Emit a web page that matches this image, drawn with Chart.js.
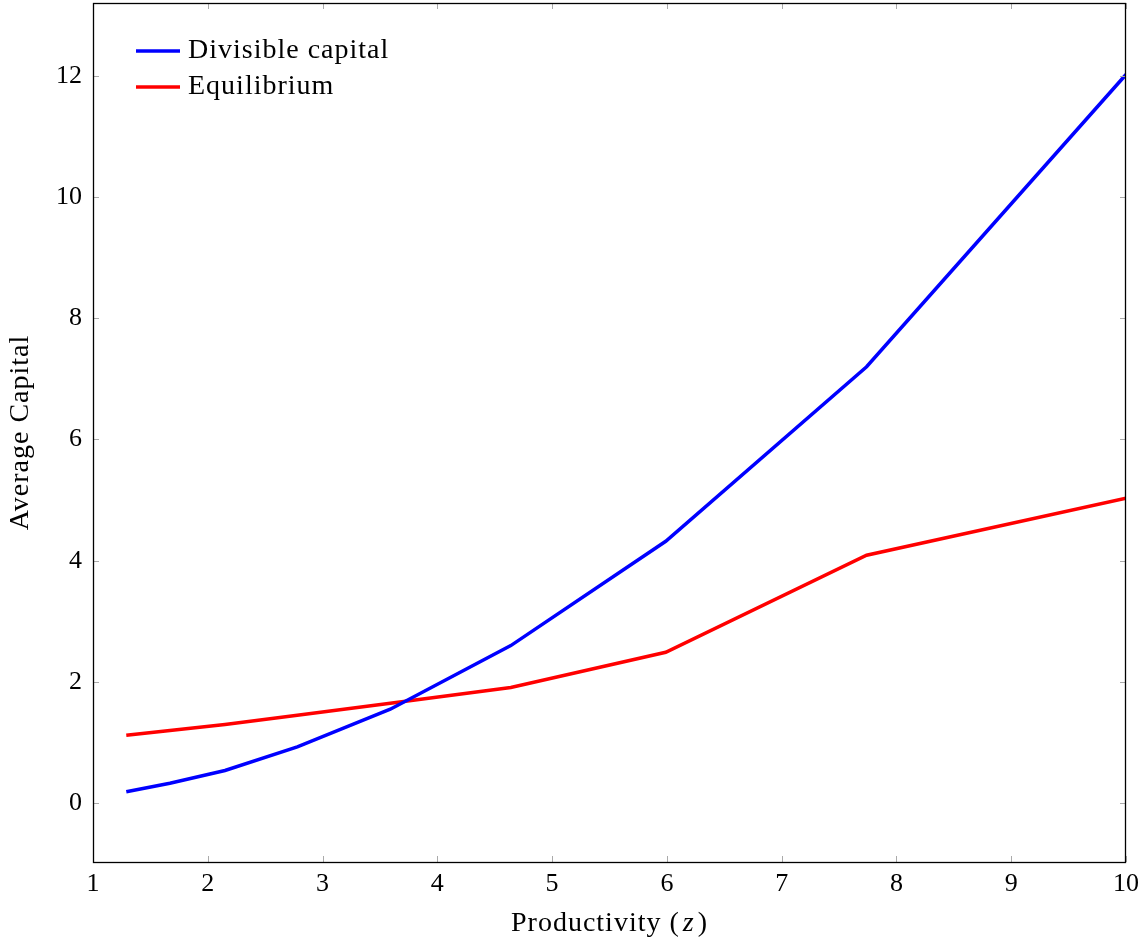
<!DOCTYPE html>
<html>
<head>
<meta charset="utf-8">
<script src="https://cdn.jsdelivr.net/npm/chart.js@4.4.1/dist/chart.umd.min.js"></script>
<style>
  html, body { margin: 0; padding: 0; background: #fff; }
  #wrap { width: 1143px; height: 943px; }
</style>
</head>
<body>
<div id="wrap"><canvas id="capitalChart"></canvas></div>
<script>
// productivity grid (x) and the two series
const productivity = [1.29, 1.67, 2.15, 2.78, 3.59, 4.64, 5.99, 7.74, 10];
const divisibleCapital = [0.19, 0.33, 0.54, 0.93, 1.55, 2.6, 4.32, 7.2, 12.02];
const equilibrium = [1.12, 1.2, 1.3, 1.45, 1.65, 1.91, 2.49, 4.09, 5.03];
const seriesLabels = ['Divisible capital', 'Equilibrium'];
const xTicks = [1, 2, 3, 4, 5, 6, 7, 8, 9, 10];
const yTicks = [0, 2, 4, 6, 8, 10, 12];
const xTitle = ['Productivity (', 'z', ')'];
const yTitle = 'Average Capital';

const FONT = '"Liberation Serif", "Times New Roman", serif';
const FSIZE = 26;      // tick labels
const TSIZE = 28;      // legend and titles
const SPACING = '1px';

const toPoints = (ys) => productivity.map((x, i) => ({ x: x, y: ys[i] }));

const noPad = (s) => { s.paddingTop = 0; s.paddingBottom = 0; s.paddingLeft = 0; s.paddingRight = 0; };

// frame, inner tick marks on all four sides, legend and axis titles
const decorations = {
    id: 'decorations',
    afterDraw(chart) {
        const ctx = chart.ctx;
        const area = chart.chartArea;
        const xs = chart.scales.x, ys = chart.scales.y;
        ctx.save();

        ctx.strokeStyle = '#aaaaaa';
        ctx.lineWidth = 1;
        ctx.beginPath();
        xTicks.forEach(v => {
            const px = Math.round(xs.getPixelForValue(v)) + 0.5;
            ctx.moveTo(px, area.bottom); ctx.lineTo(px, area.bottom - 6);
            ctx.moveTo(px, area.top); ctx.lineTo(px, area.top + 6);
        });
        yTicks.forEach(v => {
            const py = Math.round(ys.getPixelForValue(v)) + 0.5;
            ctx.moveTo(area.left, py); ctx.lineTo(area.left + 6, py);
            ctx.moveTo(area.right, py); ctx.lineTo(area.right - 6, py);
        });
        ctx.stroke();

        ctx.strokeStyle = '#000';
        ctx.lineWidth = 1.3;
        ctx.strokeRect(area.left + 0.5, area.top + 0.5, area.right - area.left - 1, area.bottom - area.top);

        ctx.fillStyle = '#000';
        ctx.textBaseline = 'middle';
        ctx.letterSpacing = SPACING;

        // legend
        ctx.font = TSIZE + 'px ' + FONT;
        ctx.textAlign = 'left';
        chart.data.datasets.forEach((ds, i) => {
            const y = area.top + 48 + i * 36;
            ctx.strokeStyle = ds.borderColor;
            ctx.lineWidth = 3.5;
            ctx.beginPath();
            ctx.moveTo(area.left + 43, y);
            ctx.lineTo(area.left + 87, y);
            ctx.stroke();
            ctx.fillText(ds.label, area.left + 95, y);
        });

        // x title with italic z
        const styles = ['', 'italic ', ''];
        const widths = xTitle.map((t, i) => {
            ctx.font = styles[i] + TSIZE + 'px ' + FONT;
            return ctx.measureText(t).width + (i === 1 ? 6 : 0);
        });
        const total = widths.reduce((a, b) => a + b, 0);
        let cx = (area.left + area.right) / 2 - total / 2;
        xTitle.forEach((t, i) => {
            ctx.font = styles[i] + TSIZE + 'px ' + FONT;
            ctx.fillText(t, cx + (i === 1 ? 3 : 0), 924);
            cx += widths[i];
        });

        // y title
        ctx.font = TSIZE + 'px ' + FONT;
        ctx.textAlign = 'center';
        ctx.translate(21, (area.top + area.bottom) / 2);
        ctx.rotate(-Math.PI / 2);
        ctx.fillText(yTitle, 0, 0);
        ctx.restore();
    }
};

new Chart(document.getElementById('capitalChart'), {
    type: 'line',
    data: {
        datasets: [
            {
                label: seriesLabels[0],
                data: toPoints(divisibleCapital),
                borderColor: '#0000ff',
                borderWidth: 3.5,
                pointRadius: 0,
                tension: 0
            },
            {
                label: seriesLabels[1],
                data: toPoints(equilibrium),
                borderColor: '#ff0000',
                borderWidth: 3.5,
                pointRadius: 0,
                tension: 0
            }
        ]
    },
    options: {
        responsive: true,
        maintainAspectRatio: false,
        animation: false,
        layout: { padding: { top: 3, right: 17, left: 0, bottom: 0 } },
        plugins: {
            legend: { display: false },
            tooltip: { enabled: false }
        },
        scales: {
            x: {
                type: 'linear',
                min: 1,
                max: 10,
                afterBuildTicks: (s) => { s.ticks = xTicks.map(v => ({ value: v })); },
                afterFit: (s) => { s.height = 81; noPad(s); },
                grid: { display: false, drawTicks: false },
                border: { display: false },
                ticks: { color: '#000', padding: 7, maxRotation: 0, font: { family: FONT, size: FSIZE } }
            },
            y: {
                type: 'linear',
                min: -0.97,
                max: 13.2,
                afterBuildTicks: (s) => { s.ticks = yTicks.map(v => ({ value: v })); },
                afterFit: (s) => { s.width = 93; noPad(s); },
                grid: { display: false, drawTicks: false },
                border: { display: false },
                ticks: { color: '#000', padding: 11, font: { family: FONT, size: FSIZE } }
            }
        }
    },
    plugins: [decorations]
});
</script>
</body>
</html>
